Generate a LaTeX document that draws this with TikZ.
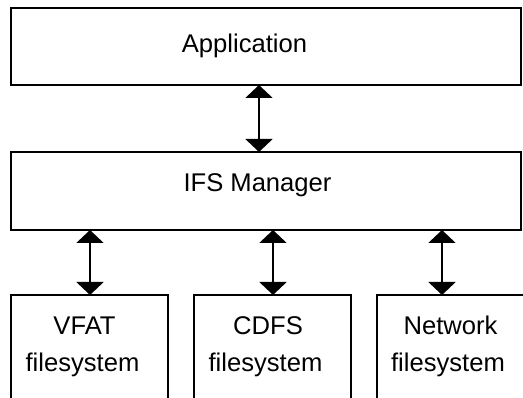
\documentclass[tikz,border=0pt]{standalone}
\usepackage{fontspec}
\setmainfont{Liberation Sans}
\usetikzlibrary{arrows.meta}
\tikzset{
  boxnode/.style={draw=black, line width=1.6pt, inner sep=0pt, fill=white},
  lbl/.style={inner sep=0pt, anchor=base, font=\fontsize{25.6}{30}\selectfont},
  link/.style={line width=2pt, {Triangle[width=27pt,length=13pt]}-{Triangle[width=27pt,length=13pt]}, shorten <=-0.8pt, shorten >=-0.8pt}
}
\begin{document}
\begin{tikzpicture}[x=1pt,y=-1pt]
\useasboundingbox (0,0) rectangle (523,398);
\clip (0,0) rectangle (523,398);
% boxes
\node[boxnode, minimum width=510pt, minimum height=77pt] (app) at (266,46.5) {};
\node[boxnode, minimum width=510pt, minimum height=78pt] (ifs) at (266,191) {};
\node[boxnode, minimum width=157pt, minimum height=150pt] (vfat) at (89.5,370) {};
\node[boxnode, minimum width=157pt, minimum height=150pt] (cdfs) at (272.5,370) {};
\node[boxnode, minimum width=157pt, minimum height=150pt] (net) at (455.5,370) {};
% labels
\node[lbl] (tapp) at (244.5,52.5) {Application};
\node[lbl] (tifs) at (257.5,192) {IFS Manager};
\node[lbl] (tvfat1) at (84.5,335) {VFAT};
\node[lbl] (tvfat2) at (82.5,372) {filesystem};
\node[lbl] (tcdfs1) at (268,335) {CDFS};
\node[lbl] (tcdfs2) at (265.5,372) {filesystem};
\node[lbl] (tnet1) at (450.6,335) {Network};
\node[lbl] (tnet2) at (448,372) {filesystem};
% connectors
\draw[link] (app.south -| 259,0) -- (ifs.north -| 259,0);
\draw[link] (ifs.south -| 90,0) -- (vfat.north -| 90,0);
\draw[link] (ifs.south -| 273,0) -- (cdfs.north -| 273,0);
\draw[link] (ifs.south -| 442,0) -- (net.north -| 442,0);
\end{tikzpicture}
\end{document}
